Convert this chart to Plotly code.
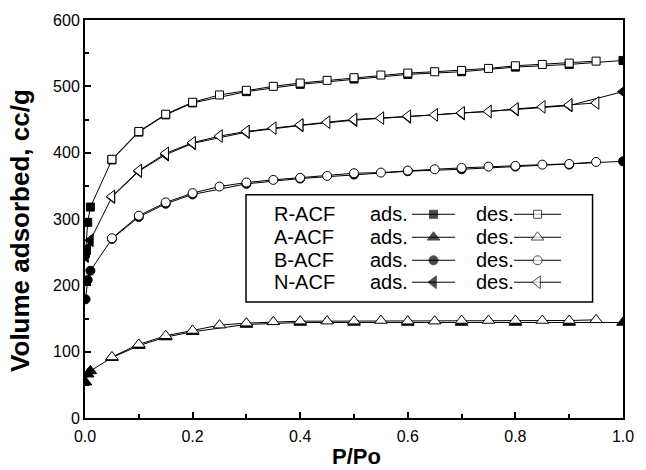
import plotly.graph_objects as go

# Relative pressure points
p_ads = [0.001, 0.005, 0.01, 0.05, 0.1, 0.15, 0.2, 0.3, 0.4, 0.5, 0.6, 0.7, 0.8, 0.9, 1.0]
p_des = [0.05, 0.10, 0.15, 0.20, 0.25, 0.30, 0.35, 0.40, 0.45, 0.50,
         0.55, 0.60, 0.65, 0.70, 0.75, 0.80, 0.85, 0.90, 0.95]

# Volume adsorbed (cc/g)
r_ads = [248, 295, 318, 389, 431, 457, 475, 492, 503, 511, 518, 522, 529, 533, 539]
r_des = [390, 432, 458, 476, 487, 494, 500, 505, 509, 513, 517, 520, 522, 524, 527, 531, 533, 535, 538]

a_ads = [54, 66, 71, 91, 109, 122, 130, 141, 144, 144, 144, 144, 144, 144, 144]
a_des = [92, 111, 124, 132, 140, 143, 145, 146, 146, 146, 147, 146, 146, 147, 147, 147, 147, 147, 148]

b_ads = [179, 208, 222, 270, 303, 323, 337, 353, 361, 367, 372, 375, 379, 382, 387]
b_des = [271, 305, 325, 339, 349, 355, 359, 362, 365, 369, 370, 373, 375, 377, 379, 380, 382, 383, 386]

n_ads = [244, 256, 268, 333, 372, 397, 414, 431, 441, 449, 454, 459, 465, 471, 492]
n_des = [334, 373, 399, 415, 425, 432, 437, 442, 446, 450, 452, 455, 457, 460, 462, 466, 469, 472, 475]

samples = ["R-ACF", "A-ACF", "B-ACF", "N-ACF"]
symbols = ["square", "triangle-up", "circle", "triangle-left"]
sizes = [8, 11, 9, 11]
ads_sets = [r_ads, a_ads, b_ads, n_ads]
des_sets = [r_des, a_des, b_des, n_des]

FONT = "Liberation Sans, Arial, sans-serif"

fig = go.Figure()

# Adsorption branches (filled symbols) first, desorption (open symbols) on top
for name, sym, sz, ya in zip(samples, symbols, sizes, ads_sets):
    fig.add_trace(go.Scatter(
        x=p_ads, y=ya, mode="lines+markers", name=name + " ads.",
        line=dict(color="black", width=1),
        marker=dict(symbol=sym, size=sz, color="black",
                    line=dict(color="black", width=1)),
        showlegend=False,
    ))
for name, sym, sz, yd in zip(samples, symbols, sizes, des_sets):
    fig.add_trace(go.Scatter(
        x=p_des, y=yd, mode="lines+markers", name=name + " des.",
        line=dict(color="black", width=1),
        marker=dict(symbol=sym, size=sz, color="white",
                    line=dict(color="black", width=1)),
        showlegend=False,
    ))

# Key box drawn on a pixel-like overlay axis pair
key_rows = [211.7, 235, 258.3, 280.5]
ads_sw_x = [418, 440, 462]
des_sw_x = [522, 546, 570]

for row_y, name, sym, sz in zip(key_rows, samples, symbols, sizes):
    fig.add_trace(go.Scatter(
        x=ads_sw_x, y=[row_y] * 3, xaxis="x2", yaxis="y2",
        mode="lines+markers", line=dict(color="black", width=1),
        marker=dict(symbol=sym, size=[0, sz, 0], color="black",
                    line=dict(color="black", width=1)),
        showlegend=False, hoverinfo="skip",
    ))
    fig.add_trace(go.Scatter(
        x=des_sw_x, y=[row_y] * 3, xaxis="x2", yaxis="y2",
        mode="lines+markers", line=dict(color="black", width=1),
        marker=dict(symbol=sym, size=[0, sz, 0], color="white",
                    line=dict(color="black", width=1)),
        showlegend=False, hoverinfo="skip",
    ))
    for tx, txt in [(275, name), (373, "ads."), (481, "des.")]:
        fig.add_annotation(
            x=tx, y=row_y, xref="x2", yref="y2", text=txt, showarrow=False,
            xanchor="left", yanchor="middle",
            font=dict(family=FONT, size=20, color="black"),
        )

fig.add_shape(type="rect", xref="x2", yref="y2", x0=249, x1=602, y0=192, y1=300.5,
              line=dict(color="black", width=1.5), fillcolor="rgba(0,0,0,0)")

fig.update_layout(
    width=646, height=470,
    margin=dict(l=85, r=13, t=15, b=52),
    paper_bgcolor="white", plot_bgcolor="white",
    font=dict(family=FONT, size=16, color="black"),
    xaxis=dict(
        range=[0, 1.0], tickvals=[0, 0.2, 0.4, 0.6, 0.8, 1.0], tickformat=".1f",
        ticks="inside", ticklen=6, tickwidth=1.5, tickcolor="black",
        minor=dict(ticks="inside", ticklen=4, tickwidth=1.5, dtick=0.1, tickcolor="black"),
        showline=True, linecolor="black", linewidth=2, mirror=True,
        showgrid=False, zeroline=False, ticklabelstandoff=3,
        tickfont=dict(family=FONT, size=16, color="black"),
    ),
    yaxis=dict(
        range=[0, 600], tickvals=[0, 100, 200, 300, 400, 500, 600],
        ticks="inside", ticklen=6, tickwidth=1.5, tickcolor="black",
        minor=dict(ticks="inside", ticklen=4, tickwidth=1.5, dtick=50, tickcolor="black"),
        showline=True, linecolor="black", linewidth=2, mirror=True,
        showgrid=False, zeroline=False,
        tickfont=dict(family=FONT, size=16, color="black"),
    ),
    xaxis2=dict(range=[85, 633], overlaying="x", visible=False, fixedrange=True),
    yaxis2=dict(range=[418, 15], overlaying="y", visible=False, fixedrange=True),
)

fig.add_annotation(
    x=-0.122, y=0.471, xref="paper", yref="paper", text="<b>Volume adsorbed, cc/g</b>",
    textangle=-90, showarrow=False, xanchor="center", yanchor="middle",
    font=dict(family=FONT, size=26, color="black"),
)
fig.add_annotation(
    x=0.504, y=-0.096, xref="paper", yref="paper", text="<b>P/Po</b>",
    showarrow=False, xanchor="center", yanchor="middle",
    font=dict(family=FONT, size=22, color="black"),
)

fig.write_html("out.html")
